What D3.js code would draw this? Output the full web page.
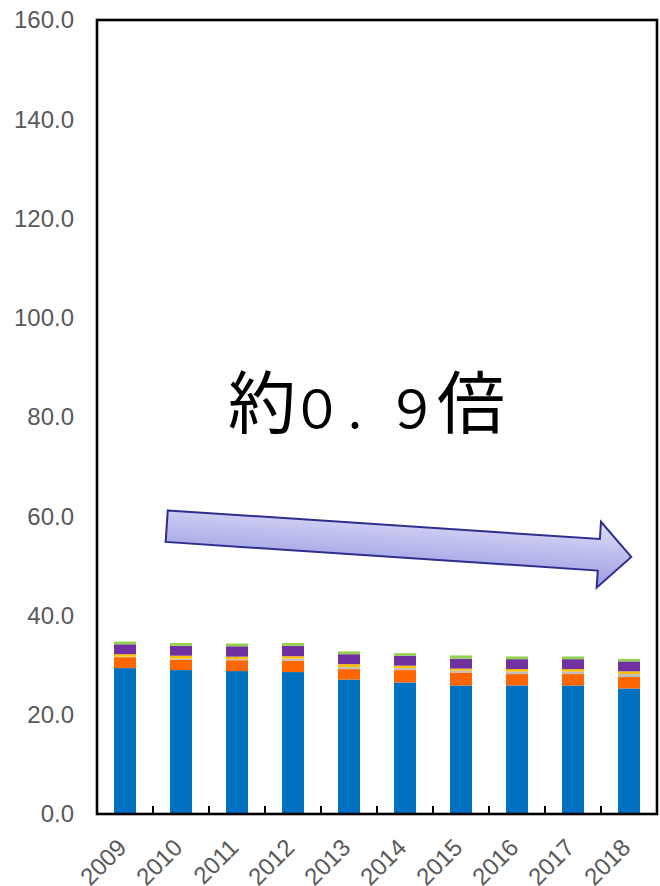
<!doctype html>
<html lang="ja">
<head>
    <meta charset="utf-8">
    <script src="https://d3js.org/d3.v7.min.js"></script>
    <style>
        body { margin: 0; background: #fff; }
        .tick-label { font-family: "Liberation Sans", Arial, sans-serif; fill: #595959; }
    </style>
</head>
<body>

    <svg width="660" height="886"></svg>

    <script>
        // years along the x axis
        var years = ['2009', '2010', '2011', '2012', '2013', '2014', '2015', '2016', '2017', '2018'];

        // stacked series, bottom to top
        var blueVals   = [29.4, 29.0, 28.8, 28.6, 27.1, 26.5, 25.9, 25.9, 25.9, 25.3];
        var orangeVals = [2.2, 2.1, 2.2, 2.3, 2.1, 2.5, 2.6, 2.3, 2.3, 2.3];
        var grayVals   = [0.1, 0.2, 0.2, 0.4, 0.4, 0.4, 0.4, 0.5, 0.5, 0.6];
        var yellowVals = [0.5, 0.6, 0.5, 0.5, 0.6, 0.5, 0.4, 0.5, 0.5, 0.55];
        var purpleVals = [2.0, 2.0, 2.1, 2.1, 2.0, 2.0, 2.0, 2.0, 2.0, 2.0];
        var greenVals  = [0.55, 0.55, 0.55, 0.55, 0.55, 0.5, 0.65, 0.55, 0.55, 0.5];

        var yTicks = [0, 20, 40, 60, 80, 100, 120, 140, 160];
        // annotation "約0. 9倍", one glyph per entry
        var noteChars = ['約', '０', '.', '９', '倍'];

        var seriesKeys = ['blue', 'orange', 'gray', 'yellow', 'purple', 'green'];
        var seriesVals = [blueVals, orangeVals, grayVals, yellowVals, purpleVals, greenVals];
        var colors = ['#0070C0', '#FF6600', '#BFBFBF', '#FFC000', '#7030A0', '#92D050'];

        // build table for d3.stack
        var table = years.map(function (yr, i) {
            var row = { year: yr };
            seriesKeys.forEach(function (k, j) { row[k] = seriesVals[j][i]; });
            return row;
        });

        var svg = d3.select("svg");
        var plotL = 97, plotR = 657, plotT = 20, plotB = 814;

        var x = d3.scaleBand().domain(years).range([plotL, plotR])
            .paddingInner(0.607).paddingOuter(0.3035);
        var y = d3.scaleLinear().domain([0, 160]).range([plotB, plotT]);
        var color = d3.scaleOrdinal(seriesKeys, colors);

        var stacked = d3.stack().keys(seriesKeys)(table);

        // bars
        svg.append("g").selectAll("g")
            .data(stacked)
            .enter().append("g")
            .attr("fill", function (d) { return color(d.key); })
            .selectAll("rect")
            .data(function (d) { return d; })
            .enter().append("rect")
            .attr("x", function (d) { return x(d.data.year); })
            .attr("width", x.bandwidth())
            .attr("y", function (d) { return y(d[1]); })
            .attr("height", function (d) { return y(d[0]) - y(d[1]); });

        // frame
        svg.append("rect")
            .attr("x", plotL).attr("y", plotT)
            .attr("width", plotR - plotL).attr("height", plotB - plotT)
            .attr("fill", "none").attr("stroke", "#000").attr("stroke-width", 2.6);

        // x ticks between categories, pointing inward
        var step = x.step();
        svg.append("g").selectAll("line")
            .data(years.slice(1))
            .enter().append("line")
            .attr("x1", function (d) { return x(d) - (step - x.bandwidth()) / 2; })
            .attr("x2", function (d) { return x(d) - (step - x.bandwidth()) / 2; })
            .attr("y1", plotB).attr("y2", plotB - 8)
            .attr("stroke", "#000").attr("stroke-width", 2);

        // y tick labels
        svg.append("g").selectAll("text")
            .data(yTicks)
            .enter().append("text")
            .attr("class", "tick-label")
            .attr("x", 74)
            .attr("y", function (d) { return y(d); })
            .attr("dy", "0.35em")
            .attr("text-anchor", "end")
            .attr("font-size", "24px")
            .text(function (d) { return d.toFixed(1); });

        // x tick labels, rotated
        svg.append("g").selectAll("text")
            .data(years)
            .enter().append("text")
            .attr("class", "tick-label")
            .attr("text-anchor", "end")
            .attr("font-size", "24px")
            .attr("transform", function (d) {
                return "translate(" + (x(d) + x.bandwidth() / 2 + 3) + "," + (plotB + 35) + ") rotate(-45)";
            })
            .text(function (d) { return d; });

        // block arrow annotation
        var defs = svg.append("defs");
        var grad = defs.append("linearGradient").attr("id", "arrowFill")
            .attr("x1", 0).attr("y1", 0).attr("x2", 0).attr("y2", 1);
        grad.append("stop").attr("offset", "0%").attr("stop-color", "#DEDEF8");
        grad.append("stop").attr("offset", "100%").attr("stop-color", "#9C9CE4");

        var ax = d3.scaleLinear().domain([0, 10]).range([plotL, plotR]);
        var tail = [ax(1.245), y(58.0)], tip = [ax(9.54), y(51.8)];
        var len = Math.hypot(tip[0] - tail[0], tip[1] - tail[1]);
        var ang = Math.atan2(tip[1] - tail[1], tip[0] - tail[0]) * 180 / Math.PI;
        var sh = 15.8, hl = 32.5, hh = 33;
        var pts = [[0, -sh], [len - hl, -sh], [len - hl, -hh], [len, 0], [len - hl, hh], [len - hl, sh], [0, sh]];

        svg.append("g")
            .attr("transform", "translate(" + tail[0] + "," + tail[1] + ") rotate(" + ang + ")")
            .append("path")
            .attr("d", d3.line()(pts) + "Z")
            .attr("fill", "url(#arrowFill)")
            .attr("stroke", "#2E2E8F")
            .attr("stroke-width", 2)
            .attr("stroke-linejoin", "miter");

        // big note text, glyph centres placed like the original
        var noteX = [262, 317, 355, 412, 471];
        var noteSize = [68, 52, 52, 52, 68];
        svg.append("text")
            .attr("y", 428)
            .attr("text-anchor", "middle")
            .attr("font-family", "'Noto Sans CJK JP', sans-serif")
            .attr("fill", "#000")
            .selectAll("tspan")
            .data(noteChars)
            .enter().append("tspan")
            .attr("x", function (d, i) { return noteX[i]; })
            .attr("font-size", function (d, i) { return noteSize[i] + "px"; })
            .text(function (d) { return d; });
    </script>
</body>
</html>
